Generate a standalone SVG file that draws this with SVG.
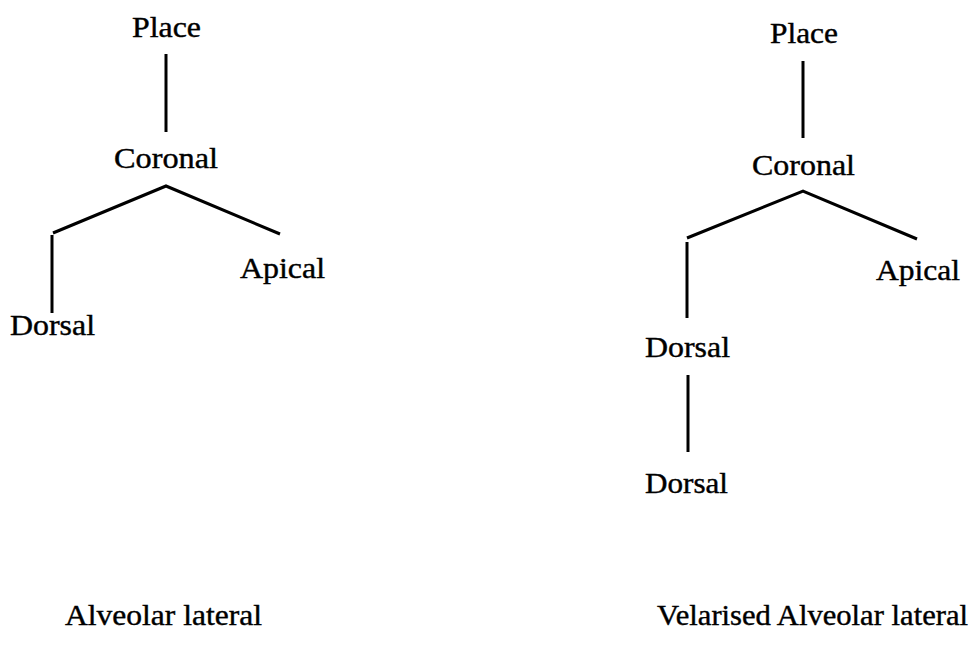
<svg xmlns="http://www.w3.org/2000/svg" width="971" height="645" viewBox="0 0 971 645">
  <style>
    text { font-family: "Liberation Serif", "Times New Roman", serif; font-size: 29px; fill: #000; stroke: #000; stroke-width: 0.4px; }
    .edge { stroke: #000; stroke-width: 3; fill: none; stroke-linecap: butt; stroke-linejoin: miter; }
  </style>
  <rect width="971" height="645" fill="#fff"/>

  <!-- connectors -->
  <g id="connectors">
    <!-- left tree -->
    <line class="edge" x1="166" y1="54" x2="166" y2="132"/>
    <polyline class="edge" points="53,233 166,186 280,234"/>
    <line class="edge" x1="52" y1="235" x2="52" y2="313"/>
    <!-- right tree -->
    <line class="edge" x1="803" y1="61" x2="803" y2="138"/>
    <polyline class="edge" points="687,238 803,191 917,239"/>
    <line class="edge" x1="687" y1="242" x2="687" y2="318"/>
    <line class="edge" x1="688" y1="375" x2="688" y2="452"/>
  </g>

  <!-- left tree: alveolar lateral -->
  <g id="l-place"><text x="132" y="37" textLength="69" lengthAdjust="spacingAndGlyphs">Place</text></g>
  <g id="l-coronal"><text x="114" y="168" textLength="104" lengthAdjust="spacingAndGlyphs">Coronal</text></g>
  <g id="l-apical"><text x="240" y="278" textLength="85" lengthAdjust="spacingAndGlyphs">Apical</text></g>
  <g id="l-dorsal"><text x="10" y="335" textLength="85" lengthAdjust="spacingAndGlyphs">Dorsal</text></g>
  <g id="l-caption"><text x="65" y="625" textLength="197" lengthAdjust="spacingAndGlyphs">Alveolar lateral</text></g>

  <!-- right tree: velarised alveolar lateral -->
  <g id="r-place"><text x="770" y="43" textLength="68" lengthAdjust="spacingAndGlyphs">Place</text></g>
  <g id="r-coronal"><text x="752" y="175" textLength="103" lengthAdjust="spacingAndGlyphs">Coronal</text></g>
  <g id="r-apical"><text x="876" y="280" textLength="84" lengthAdjust="spacingAndGlyphs">Apical</text></g>
  <g id="r-dorsal-1"><text x="645" y="357" textLength="85" lengthAdjust="spacingAndGlyphs">Dorsal</text></g>
  <g id="r-dorsal-2"><text x="645" y="493" textLength="83" lengthAdjust="spacingAndGlyphs">Dorsal</text></g>
  <g id="r-caption"><text x="657" y="625" textLength="311" lengthAdjust="spacingAndGlyphs">Velarised Alveolar lateral</text></g>
</svg>
